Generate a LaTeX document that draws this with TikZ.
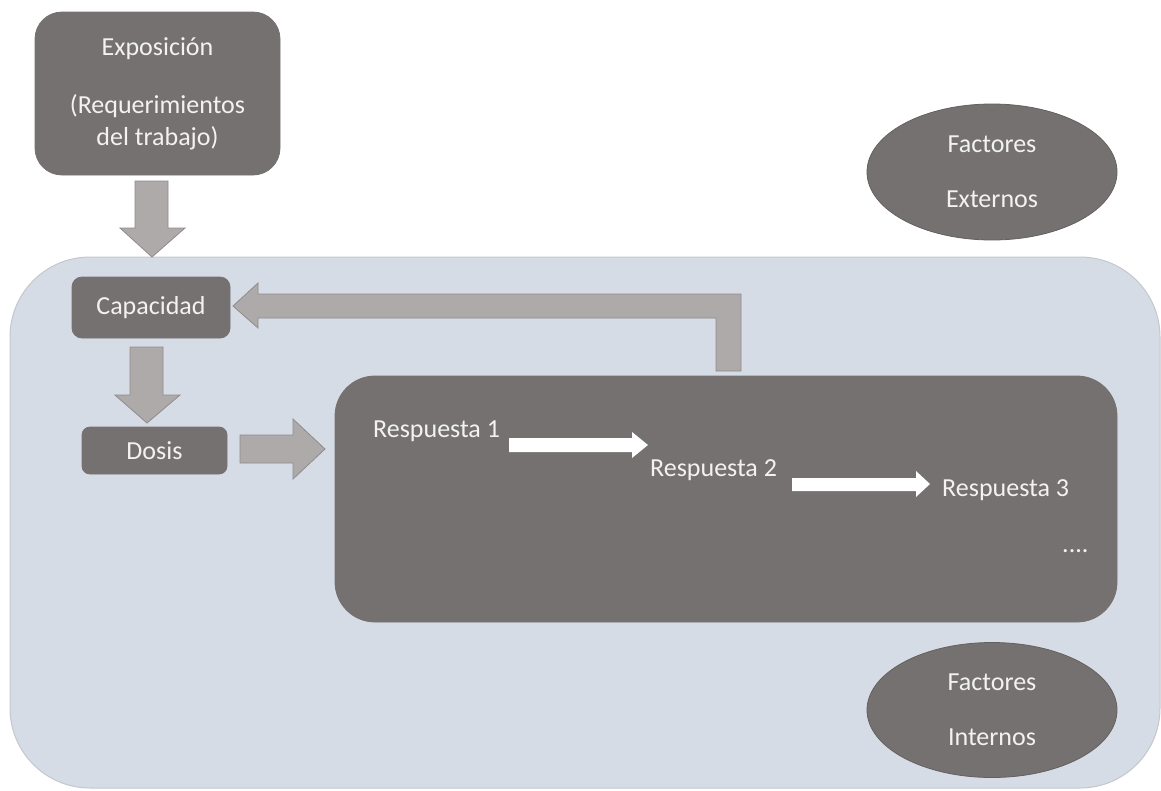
\documentclass[tikz,border=0pt]{standalone}
\usepackage{fontspec}
\setmainfont{Carlito}
\usetikzlibrary{shapes.geometric}
\definecolor{boxgray}{HTML}{767171}
\definecolor{arrowgray}{HTML}{AEAAAA}
\definecolor{arrowedge}{HTML}{8F8B8B}
\definecolor{zonefill}{HTML}{D6DCE5}
\definecolor{zoneedge}{HTML}{C4C8CE}
\definecolor{labelcol}{HTML}{F2F2F2}
\begin{document}
\begin{tikzpicture}[x=1pt,y=-1pt,
  every node/.style={font=\fontsize{26}{32}\selectfont, text=labelcol},
  darkbox/.style={rectangle, fill=boxgray, draw=boxgray, line width=0.8pt, align=center},
  oval/.style={ellipse, fill=boxgray, draw=boxgray!85!black, line width=0.8pt, align=center, inner sep=0pt},
  blockarrow/.style={fill=arrowgray, draw=arrowedge, line width=0.8pt, line join=miter},
  whitearrow/.style={fill=white, draw=none},
  resp/.style={anchor=base west, inner sep=0pt}]
\useasboundingbox (0,0) rectangle (1161,790);
\fill[white] (0,0) rectangle (1161,790);

% system zone
\node[rectangle, rounded corners=80pt, fill=zonefill, draw=zoneedge, line width=1pt,
      minimum width=1150pt, minimum height=531pt] (zone) at (585,522.5) {};

% external factors
\node[oval, minimum width=250pt, minimum height=136pt] (ext) at (992,172)
  {Factores\\[23pt]Externos};
% internal factors
\node[oval, minimum width=250pt, minimum height=135pt] (int) at (992,710)
  {Factores\\[23pt]Internos};

% exposure
\node[darkbox, rounded corners=27pt, minimum width=245pt, minimum height=163pt] (expo) at (157.5,93.5)
  {Exposición\\[26pt](Requerimientos\\del trabajo)};
% capacity and dose
\node[darkbox, rounded corners=10pt, minimum width=158pt, minimum height=61pt] (cap) at (151,307.5) {Capacidad};
\node[darkbox, rounded corners=8pt, minimum width=145pt, minimum height=47pt] (dose) at (154.5,450.5) {Dosis};
% responses
\node[darkbox, rounded corners=40pt, minimum width=782pt, minimum height=246pt] (resp) at (726,499) {};
\node[resp] (r1) at (373,437) {Respuesta 1};
\node[resp] (r2) at (650,476) {Respuesta 2};
\node[resp] (r3) at (942,496) {Respuesta 3};
\node[resp] (dots) at (1062,552) {....};

% exposure -> capacity
\draw[blockarrow] (135,181) -- (168,181) -- (168,228) -- (185,228) -- (152,257)
  -- (120,228) -- (135,228) -- cycle;
% capacity -> dose
\draw[blockarrow] (130,347) -- (163,347) -- (163,395) -- (180,395) -- (147,423)
  -- (115,395) -- (130,395) -- cycle;
% dose -> responses
\draw[blockarrow] (240,435) -- (293,435) -- (293,419) -- (325,449) -- (293,479)
  -- (293,463) -- (240,463) -- cycle;
% responses -> capacity (feedback)
\draw[blockarrow] (716,371) -- (716,318) -- (258,318) -- (258,328) -- (233,306)
  -- (258,283) -- (258,294) -- (741,294) -- (741,371) -- cycle;

% response chain
\fill[whitearrow] (509,438) -- (632,438) -- (632,432) -- (648,445) -- (632,458)
  -- (632,452) -- (509,452) -- cycle;
\fill[whitearrow] (792,478) -- (916,478) -- (916,471) -- (930,484) -- (916,497)
  -- (916,491) -- (792,491) -- cycle;
\end{tikzpicture}
\end{document}
